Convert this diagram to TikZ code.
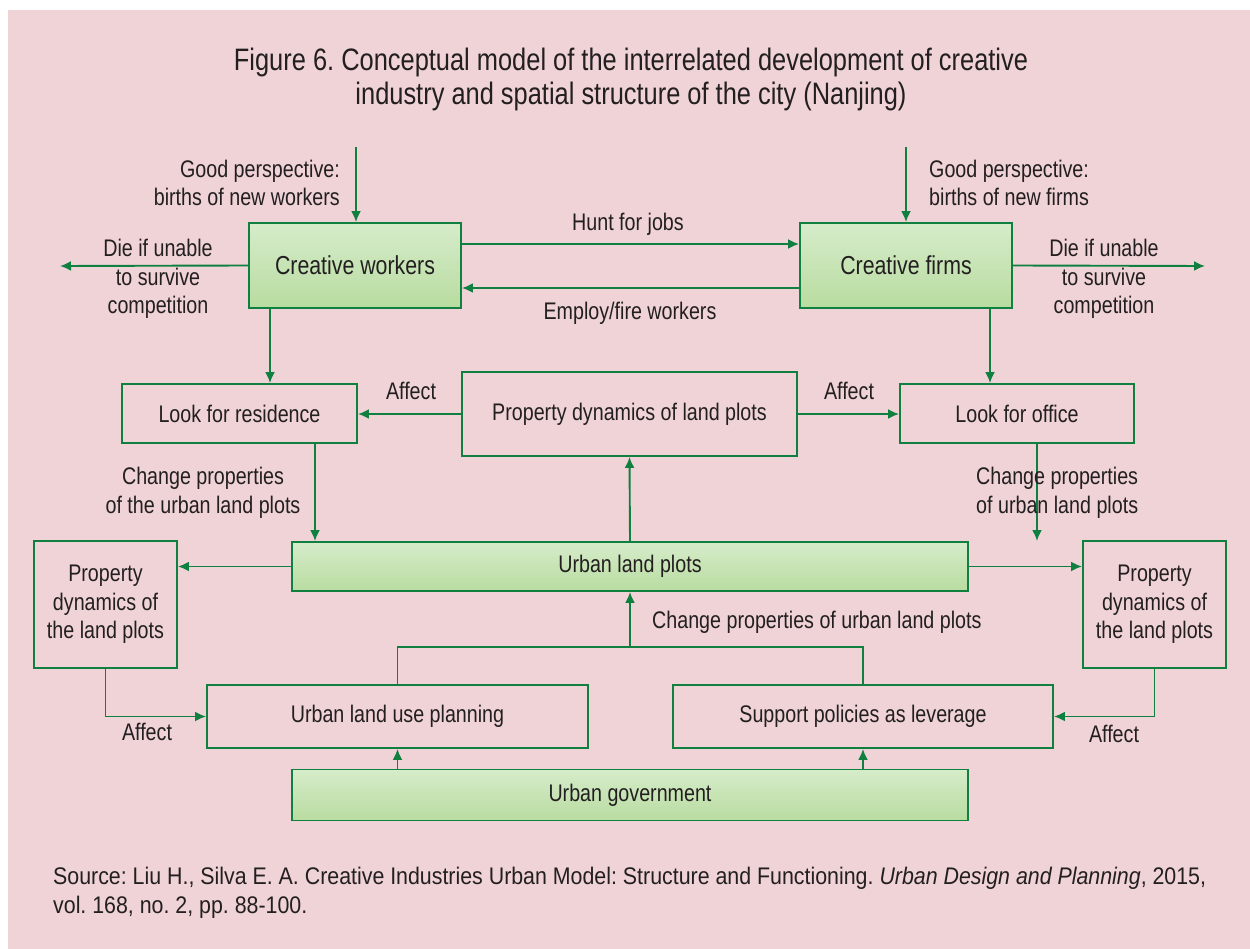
\documentclass[tikz,border=0pt]{standalone}
\usepackage{fontspec}
\setmainfont{Liberation Sans}[FakeStretch=0.82]
\newfontfamily\srcfamily{Liberation Sans}[FakeStretch=0.89]
\frenchspacing
\usetikzlibrary{arrows.meta}
\definecolor{bgpink}{RGB}{239,211,214}
\definecolor{lgreen}{RGB}{16,128,64}
\definecolor{gtop}{RGB}{214,236,202}
\definecolor{gbot}{RGB}{184,220,160}
\definecolor{txt}{RGB}{35,31,32}
\newcommand\lblfont{\fontsize{24}{28.5}\selectfont}
\newcommand\boxfont{\fontsize{26}{30}\selectfont}
\tikzset{
  gbox/.style={draw=lgreen, line width=1.9pt, top color=gtop, bottom color=gbot, inner sep=0pt, text=txt, font=\boxfont, align=center},
  wbox/.style={draw=lgreen, line width=1.9pt, inner sep=0pt, text=txt, font=\lblfont, align=center},
  arr/.style={draw=lgreen, line width=1.9pt, -{Latex[length=11pt,width=10pt]}},
  conn/.style={draw=lgreen, line width=1.9pt},
  lbl/.style={text=txt, font=\lblfont, inner sep=0pt, align=center},
}
\begin{document}
\begin{tikzpicture}[x=1pt,y=-1pt]
\useasboundingbox (0,0) rectangle (1250,949);
\fill[white] (0,0) rectangle (1250,949);
\fill[bgpink] (8,10) rectangle (1250,949);
% title
\node[lbl, font=\fontsize{31}{34}\selectfont] (title) at (631,79) {Figure 6. Conceptual model of the interrelated development of creative\\industry and spatial structure of the city (Nanjing)};
% main boxes
\node[gbox, minimum width=212pt, minimum height=85pt] (cw) at (355,265.5) {Creative workers};
\node[gbox, minimum width=212pt, minimum height=85pt] (cf) at (906,265.5) {Creative firms};
\node[wbox, minimum width=235pt, minimum height=59pt] (res) at (239.5,413.5) {Look for residence};
\node[wbox, minimum width=335pt, minimum height=84pt] (mid) at (629.5,414) {Property dynamics of land plots};
\node[wbox, minimum width=234pt, minimum height=59pt] (off) at (1017,413.5) {Look for office};
\node[gbox, font=\lblfont, minimum width=676pt, minimum height=49pt] (ulp) at (630,566.5) {Urban land plots};
\node[wbox, minimum width=143pt, minimum height=127pt] (lprop) at (105.5,604.5) {Property\\dynamics of\\the land plots};
\node[wbox, minimum width=143pt, minimum height=127pt] (rprop) at (1154.5,604.5) {Property\\dynamics of\\the land plots};
\node[wbox, minimum width=381pt, minimum height=63pt] (plan) at (397.5,716.5) {Urban land use planning};
\node[wbox, minimum width=380pt, minimum height=63pt] (sup) at (863,716.5) {Support policies as leverage};
\node[gbox, font=\lblfont, minimum width=676pt, minimum height=51pt] (gov) at (630,795) {Urban government};
% free ends
\coordinate (cwsrc) at (356,147);
\coordinate (cfsrc) at (906,147);
\coordinate (cwout) at (60,266);
\coordinate (cfout) at (1205,266);
\coordinate (offend) at (1037,541);
\coordinate (joinL) at (397.5,647);
\coordinate (joinR) at (863,647);
\coordinate (joinM) at (630,647);
% connectors
\draw[arr] (cwsrc) -- (cwsrc |- cw.north);
\draw[arr] (cfsrc) -- (cfsrc |- cf.north);
\draw[arr] (cw.west) -- (cwout);
\draw[arr] (cf.east) -- (cfout);
\draw[arr] (cw.east |- 0,244) -- (cf.west |- 0,244);
\draw[arr] (cf.west |- 0,288) -- (cw.east |- 0,288);
\draw[arr] (270,0 |- cw.south) -- (270,0 |- res.north);
\draw[arr] (990,0 |- cf.south) -- (990,0 |- off.north);
\draw[arr] (mid.west) -- (res.east |- mid.west);
\draw[arr] (mid.east) -- (off.west |- mid.east);
\draw[arr] (315,0 |- res.south) -- (315,0 |- ulp.north);
\draw[arr] (offend |- off.south) -- (offend);
\draw[arr] (ulp.north) -- (mid.south);
\draw[arr] (ulp.west) -- (lprop.east |- ulp.west);
\draw[arr] (ulp.east) -- (rprop.west |- ulp.east);
\draw[arr] (lprop.south) |- (plan.west);
\draw[arr] (rprop.south) |- (sup.east);
\draw[conn] (plan.north) -- (joinL) -- (joinR) -- (sup.north);
\draw[arr] (joinM) -- (ulp.south);
\draw[arr] (gov.north -| plan.north) -- (plan.south);
\draw[arr] (gov.north -| sup.north) -- (sup.south);
% labels
\node[lbl, align=right, anchor=east] (l1) at (340,183) {Good perspective:\\births of new workers};
\node[lbl, align=left, anchor=west] (l2) at (929,183) {Good perspective:\\births of new firms};
\node[lbl] (l3) at (158,279) {Die if unable\\to survive\\competition};
\node[lbl] (l4) at (1104,279) {Die if unable\\to survive\\competition};
\node[lbl] (l5) at (628,224) {Hunt for jobs};
\node[lbl] (l6) at (630,313) {Employ/fire workers};
\node[lbl] (l7) at (411,391) {Affect};
\node[lbl] (l8) at (849,391) {Affect};
\node[lbl] (l9) at (203,493) {Change properties\\of the urban land plots};
\node[lbl, align=left, anchor=west] (l10) at (976,493) {Change properties\\of urban land plots};
\node[lbl, anchor=west] (l11) at (652,622) {Change properties of urban land plots};
\node[lbl] (l12) at (147,732) {Affect};
\node[lbl] (l13) at (1114,734) {Affect};
\node[lbl, align=left, anchor=north west, font=\srcfamily\fontsize{24}{29}\selectfont] (src) at (53,867) {Source: Liu H., Silva E. A. Creative Industries Urban Model: Structure and Functioning. \textit{Urban Design and Planning}, 2015,\\vol. 168, no. 2, pp. 88-100.};
\end{tikzpicture}
\end{document}
